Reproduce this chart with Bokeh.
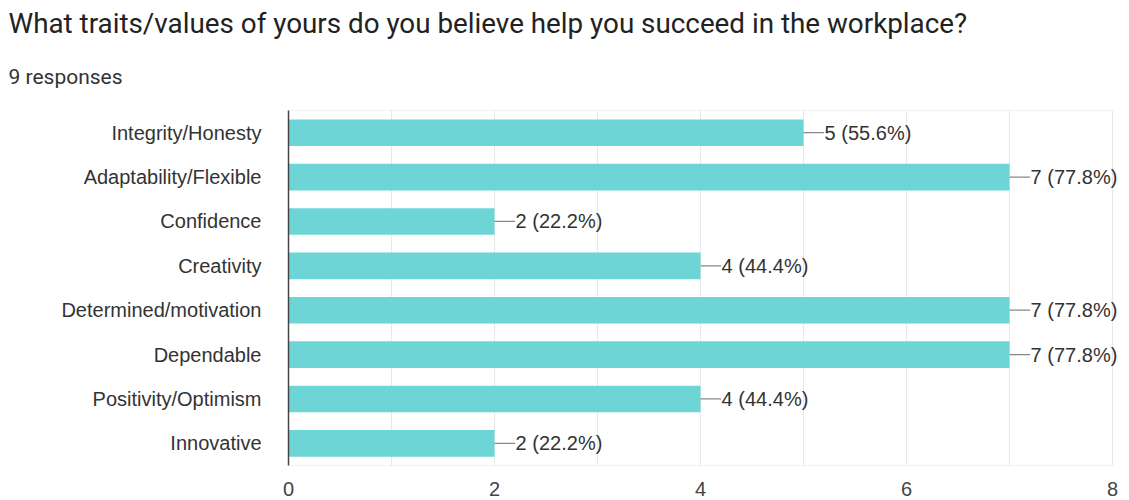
from bokeh.plotting import figure
from bokeh.models import Title, LabelSet, FixedTicker, ColumnDataSource, FactorRange
from bokeh.embed import file_html
from bokeh.resources import INLINE
from bokeh.core.properties import value

categories = ["Integrity/Honesty", "Adaptability/Flexible", "Confidence", "Creativity",
              "Determined/motivation", "Dependable", "Positivity/Optimism", "Innovative"]
counts = [5, 7, 2, 4, 7, 7, 4, 2]
total_responses = 9
x_ticks = [0, 2, 4, 6, 8]
x_max = 8

title_text = "What traits/values of yours do you believe help you succeed in the workplace?"
subtitle_text = f"{total_responses} responses"

labels = [f"{c} ({c / total_responses * 100:.1f}%)" for c in counts]
lead = 0.2
src = ColumnDataSource(dict(
    cat=categories, val=counts, lab=labels,
    x1=[c + lead for c in counts],
    tx=[c + lead + 0.005 for c in counts],
))

FONT = "Liberation Sans"
TFONT = "Roboto"

# frame extends past x=8 so the value labels are not clipped (8 -> 1112 px, edge 1129 px)
x_end = x_max + 17 / 103.0
p = figure(width=1129, height=500, output_backend="svg", toolbar_location=None,
           y_range=FactorRange(*reversed(categories)), x_range=(0, x_end),
           min_border_left=288, min_border_right=0, min_border_bottom=35, min_border_top=110)
p.title = None

sub = Title(text=subtitle_text, align="left", text_font_size="21px", text_font=TFONT,
            text_color="#333333", text_font_style="normal", offset=-280, standoff=44)
main = Title(text=title_text, align="left", text_font_size="27.8px", text_font=TFONT,
             text_color="#222222", text_font_style="normal", offset=-280, standoff=2)
p.add_layout(sub, "above")
p.add_layout(main, "above")

# light frame border (top and bottom) ending at x=8
n = len(categories)
p.segment(x0=[0, 0], x1=[x_max, x_max], y0=[0, n], y1=[0, n],
          line_color="#e6e6e6", line_width=1)

p.hbar(y="cat", right="val", left=0, height=0.6, source=src,
       fill_color="#6dd5d5", line_color=None)
p.segment(x0="val", y0="cat", x1="x1", y1="cat", source=src,
          line_color="#888888", line_width=1.2)
p.add_layout(LabelSet(x="tx", y="cat", text="lab", source=src, text_baseline="middle",
                      text_align="left", text_font_size=value("20px"), text_font=value(FONT),
                      text_color="#333333"))

p.xaxis.ticker = FixedTicker(ticks=x_ticks, minor_ticks=list(range(0, 9)))
p.xaxis.axis_line_color = None
p.xaxis.major_tick_line_color = None
p.xaxis.minor_tick_line_color = None
p.xaxis.major_label_text_font = FONT
p.xaxis.major_label_text_font_size = "20px"
p.xaxis.major_label_text_color = "#444444"
p.xaxis.major_label_standoff = 10

p.yaxis.axis_line_color = "#444444"
p.yaxis.axis_line_width = 1.5
p.yaxis.major_tick_line_color = None
p.yaxis.minor_tick_line_color = None
p.yaxis.major_label_text_font = FONT
p.yaxis.major_label_text_font_size = "20px"
p.yaxis.major_label_text_color = "#333333"
p.yaxis.major_label_standoff = 21

p.xgrid.grid_line_color = "#e8e8e8"
p.xgrid.minor_grid_line_color = "#e8e8e8"
p.xgrid.ticker = FixedTicker(ticks=list(range(0, 9)))
p.ygrid.grid_line_color = None
p.outline_line_color = None
p.y_range.range_padding = 0

open("out.html", "w").write(file_html(p, INLINE))
